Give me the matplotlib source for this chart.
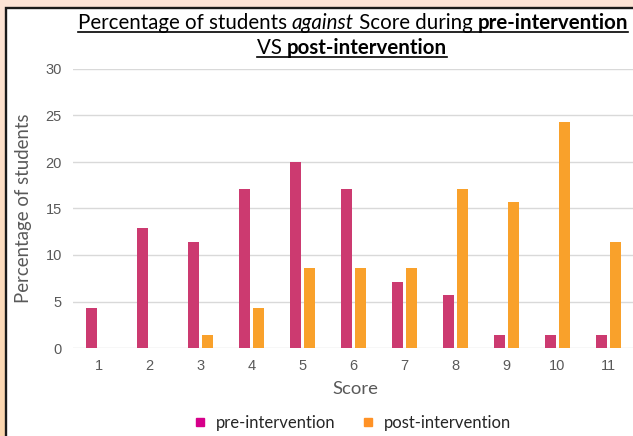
import numpy as np
import matplotlib
matplotlib.use("Agg")
import matplotlib.pyplot as plt
from matplotlib.lines import Line2D
from matplotlib.patches import Rectangle

# data (percent of 70 students)
scores = [1, 2, 3, 4, 5, 6, 7, 8, 9, 10, 11]
pre = [4.29, 12.86, 11.43, 17.14, 20.0, 17.14, 7.14, 5.71, 1.43, 1.43, 1.43]
post = [0, 0, 1.43, 4.29, 8.57, 8.57, 8.57, 17.14, 15.71, 24.29, 11.43]
series = ["pre-intervention", "post-intervention"]
yticks = [0, 5, 10, 15, 20, 25, 30]

W, H = 633, 436
SANS = "Lato"
TICKF = "Liberation Sans"
GREY = "#595959"

fig = plt.figure(figsize=(W / 100, H / 100), dpi=100)
fig.patch.set_facecolor("#fcdfc9")

# peach gradient behind, white chart panel with dark frame
bg = fig.add_axes([0, 0, 1, 1], zorder=-10)
grad = np.linspace(0, 1, 256).reshape(-1, 1)
cmap = matplotlib.colors.LinearSegmentedColormap.from_list("pe", ["#fbd6ae", "#fde4d6"])
bg.imshow(grad, aspect="auto", cmap=cmap, origin="lower", extent=[0, 1, 0, 1])
bg.axis("off")
fig.patches.append(Rectangle((6 / W, -0.05), 1.1, (H - 8) / H + 0.05, transform=fig.transFigure,
                             facecolor="white", edgecolor="#1a1a1a", lw=1.7, zorder=-5))

ax = fig.add_axes([73 / W, 88 / H, 560 / W, 279 / H])
ax.set_facecolor("none")
x = np.array(scores)
bw = 0.225
ax.bar(x - 0.142, pre, bw, color="#cc3a70", zorder=3)
ax.bar(x + 0.142, post, bw, color="#f9a12b", zorder=3)

ax.set_xlim(0.5, 0.5 + 560 / 51)
ax.set_ylim(0, 30)
ax.set_yticks(yticks)
ax.set_xticks(scores)
ax.grid(axis="y", color="#d9d9d9", lw=1.0, zorder=0)
for s in ax.spines.values():
    s.set_visible(False)
ax.tick_params(length=0, labelsize=10.5, labelcolor=GREY, pad=8)
for lab in ax.get_xticklabels() + ax.get_yticklabels():
    lab.set_fontfamily(TICKF)

fig.text(24 / W, 1 - 208 / H, "Percentage of students", rotation=90, ha="center", va="center",
         fontsize=13.4, color=GREY, family=SANS)
fig.text(355 / W, 1 - 389 / H, "Score", ha="center", va="center", fontsize=13.3, color=GREY, family=SANS)

# legend
handles = [Line2D([], [], marker="s", ls="none", ms=5.8, color="#d6008a"),
           Line2D([], [], marker="s", ls="none", ms=5.8, color="#ff9226")]
fig.legend(handles, series, loc="center", bbox_to_anchor=(353 / W, 1 - 423 / H), ncol=2, frameon=False,
           prop={"family": SANS, "size": 12}, handlelength=0.6, handletextpad=0.7, columnspacing=1.6,
           labelcolor="#262626")

# title: mixed styles, underlined
renderer = fig.canvas.get_renderer()


def width(s, **kw):
    t = fig.text(0, 0, "|" + s + "|", **kw)
    w1 = t.get_window_extent(renderer).width
    t.remove()
    t = fig.text(0, 0, "||", **kw)
    w2 = t.get_window_extent(renderer).width
    t.remove()
    return w1 - w2


def title_line(pieces, xc, ybase, size):
    kws = []
    for s, weight, style in pieces:
        kws.append(dict(fontsize=size, family=SANS, fontweight=weight, fontstyle=style, color="black"))
    ws = [width(s, **k) for (s, _, _), k in zip(pieces, kws)]
    total = sum(ws)
    x0 = xc - total / 2
    xp = x0
    for (s, _, _), k, w in zip(pieces, kws, ws):
        fig.text(xp / W, 1 - ybase / H, s, ha="left", va="baseline", **k)
        xp += w
    fig.add_artist(Line2D([x0 / W, xp / W], [1 - (ybase + 3) / H] * 2, color="black", lw=1.2,
                          transform=fig.transFigure))


TS = 14.8
title_line([("Percentage of students ", "normal", "normal"), ("against", "normal", "italic"),
            (" Score during ", "normal", "normal"), ("pre-intervention", "bold", "normal")], 353, 29, TS)
title_line([("VS ", "normal", "normal"), ("post-intervention", "bold", "normal")], 352, 54, TS)

fig.savefig("out.png", dpi=100, facecolor=fig.get_facecolor())
